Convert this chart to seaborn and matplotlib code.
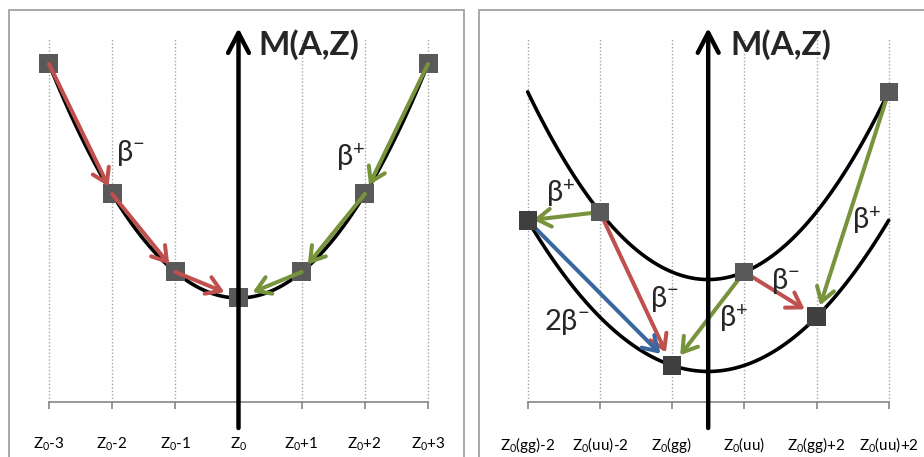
import numpy as np
import pandas as pd
import matplotlib.pyplot as plt
from matplotlib.patches import Rectangle
import seaborn as sns

# ---- left panel: odd A, one parabola ----
left_z = [-3, -2, -1, 0, 1, 2, 3]
left_labels = ['Z$_0$-3', 'Z$_0$-2', 'Z$_0$-1', 'Z$_0$', 'Z$_0$+1', 'Z$_0$+2', 'Z$_0$+3']
left_mass = [9.0, 4.0, 1.0, 0.0, 1.0, 4.0, 9.0]
# (from Z, to Z, decay)
left_decays = [(-3, -2, 'b-'), (-2, -1, 'b-'), (-1, 0, 'b-'),
               (3, 2, 'b+'), (2, 1, 'b+'), (1, 0, 'b+')]

# ---- right panel: even A, gg and uu parabolas ----
right_z = [0, 1, 2, 3, 4, 5]
right_labels = ['Z$_0$(gg)-2', 'Z$_0$(uu)-2', 'Z$_0$(gg)', 'Z$_0$(uu)',
                'Z$_0$(gg)+2', 'Z$_0$(uu)+2']
gg_curve = [5.0, 2.35, 1.0, 1.0, 2.35, 5.0]
uu_curve = [8.54, 5.23, 3.58, 3.58, 5.23, 8.54]
gg_z = [0, 2, 4]
gg_mass = [5.0, 1.0, 2.35]
uu_z = [1, 3, 5]
uu_mass = [5.23, 3.58, 8.54]
right_decays = [(1, 0, 'b+'), (1, 2, 'b-'), (0, 2, '2b-'),
                (3, 2, 'b+'), (3, 4, 'b-'), (5, 4, 'b+')]

colors = {'b-': '#C0504D', 'b+': '#77933C', '2b-': '#3A67A0'}
BM = r'β$^{\mathrm{-}}$'
BP = r'β$^{+}$'

sns.set_theme(style='white')
plt.rcParams['font.family'] = ['Lato', 'DejaVu Sans']
plt.rcParams['mathtext.fontset'] = 'custom'
plt.rcParams['mathtext.rm'] = 'Lato'
plt.rcParams['mathtext.it'] = 'Lato'
plt.rcParams['mathtext.bf'] = 'Lato:bold'

fig = plt.figure(figsize=(9.24, 4.57), dpi=100)
W, H = 924, 457


def setup_axis(ax, z, labels, ylim, base, top, axis_x, arrow_lo, arrow_hi):
    ax.set_xlim(z[0] - 0.5, z[-1] + 0.5)
    ax.set_ylim(*ylim)
    ax.patch.set_alpha(0)
    for s in ['left', 'right', 'top']:
        ax.spines[s].set_visible(False)
    ax.spines['bottom'].set_position(('data', base))
    ax.spines['bottom'].set_bounds(z[0], z[-1])
    ax.spines['bottom'].set_color('#868686')
    ax.spines['bottom'].set_linewidth(1.2)
    ax.set_xticks(z, labels)
    ax.set_yticks([])
    ax.tick_params(axis='x', direction='out', length=5, width=1.2, color='#868686',
                   pad=19, labelsize=11, labelcolor='black', bottom=True)
    ax.set_xlabel('')
    ax.set_ylabel('')
    # dotted vertical gridlines
    ax.vlines(z, base, top, colors='#A6A6A6', linestyles=(0, (1, 1.5)), lw=1, zorder=0)
    # mass axis arrow
    ax.annotate('', xy=(axis_x, arrow_hi), xytext=(axis_x, arrow_lo),
                arrowprops=dict(arrowstyle='->,head_length=0.48,head_width=0.25',
                                lw=3.2, color='black', mutation_scale=30,
                                shrinkA=0, shrinkB=0), zorder=3.5)


def draw_decay(ax, pos, start, end, kind, shrink, z):
    ax.annotate('', xy=(end, pos[end]), xytext=(start, pos[start]),
                arrowprops=dict(arrowstyle='->,head_length=0.5,head_width=0.32',
                                lw=2.9, color=colors[kind], mutation_scale=20,
                                shrinkA=0, shrinkB=shrink), zorder=z)


# ---------------- left ----------------
axL = fig.add_axes([17.4 / W, 0, 442.2 / W, 1])
setup_axis(axL, left_z, left_labels, (-6.115, 11.46), -4, 10, 0, -5.0, 10.38)
sns.regplot(x=left_z, y=left_mass, order=2, ci=None, scatter=False, ax=axL,
            line_kws=dict(color='black', lw=2.6, zorder=2))
sns.scatterplot(x=left_z, y=left_mass, marker='s', s=187, color='#595959',
                edgecolor='none', ax=axL, zorder=3)
left_pos = dict(zip(left_z, left_mass))
for (a, b, k), sh in zip(left_decays, [6, 7, 11, 7, 7, 11]):
    draw_decay(axL, left_pos, a, b, k, sh, 4)
axL.text(0.317, 9.73, 'M(A,Z)', fontsize=24, fontweight='bold', va='center', ha='left')
axL.text(-1.71, 5.58, BM, fontsize=21, va='center', ha='center')
axL.text(1.77, 5.42, BP, fontsize=21, va='center', ha='center')

# ---------------- right ----------------
axR = fig.add_axes([491.6 / W, 0, 433.2 / W, 1])
setup_axis(axR, right_z, right_labels, (-1.515, 11.07), 0, 10, 2.5, -0.716, 10.30)
for curve in [gg_curve, uu_curve]:
    sns.regplot(x=right_z, y=curve, order=2, ci=None, scatter=False, ax=axR,
                line_kws=dict(color='black', lw=2.6, zorder=2))
right_pos = dict(zip(gg_z, gg_mass))
right_pos.update(zip(uu_z, uu_mass))
for (a, b, k), sh in zip(right_decays, [4, 10.5, 12, 9.5, 10, 8.5]):
    draw_decay(axR, right_pos, a, b, k, sh, 2.5)
sns.scatterplot(x=gg_z, y=gg_mass, marker='s', s=175, color='#3F3F3F',
                edgecolor='none', ax=axR, zorder=3)
sns.scatterplot(x=uu_z, y=uu_mass, marker='s', s=175, color='#595959',
                edgecolor='none', ax=axR, zorder=3)
axR.text(2.805, 9.83, 'M(A,Z)', fontsize=24, fontweight='bold', va='center', ha='left')
for x, y, t in [(0.45, 5.76, BP), (0.545, 2.20, '2' + BM), (1.90, 2.84, BM),
                (2.85, 2.31, BP), (3.57, 3.33, BM), (4.69, 5.01, BP)]:
    axR.text(x, y, t, fontsize=21, va='center', ha='center')

# panel frames
for x0, x1 in [(9, 464), (479, 930)]:
    fig.add_artist(Rectangle((x0 / W, -0.05), (x1 - x0) / W, 1.05 - 10 / H,
                             transform=fig.transFigure, fill=False,
                             edgecolor='#9A9A9A', lw=1.2, clip_on=False))

fig.savefig('out.png', dpi=100)
